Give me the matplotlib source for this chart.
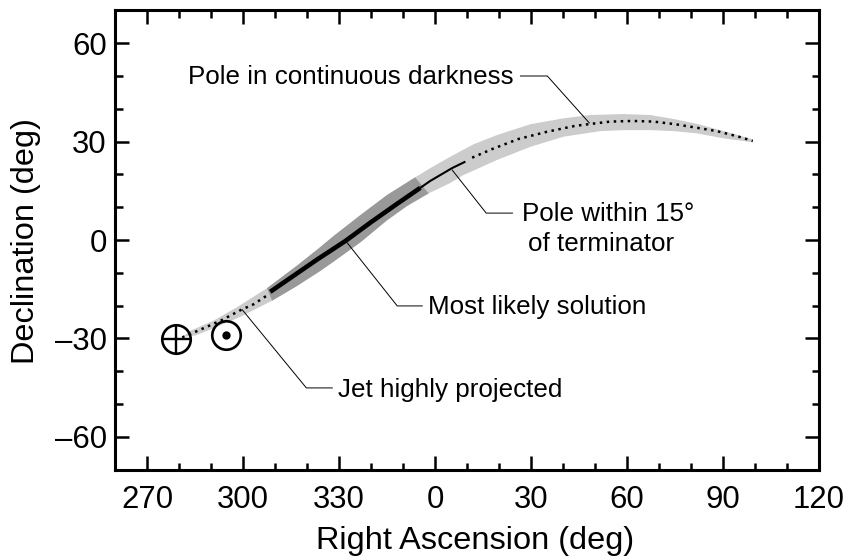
import numpy as np
from matplotlib import pyplot as plt

plt.rcParams["font.family"] = ["Liberation Sans", "DejaVu Sans"]

#: Pole track, right ascension unwrapped past 360 deg.
TRACK_RA = np.array([281.0, 285.1, 289.3, 293.4, 299.4, 303.3, 307.2, 308.5, 323.1, 332.0,
                     339.8, 348.1, 355.4, 358.5, 365.3, 369.5, 371.6, 377.8, 386.1, 395.0,
                     403.8, 410.4, 414.8, 421.6, 428.3, 435.1, 441.9, 448.1, 454.9, 459.3])
TRACK_DEC = np.array([-29.7, -28.0, -26.2, -24.4, -21.3, -19.6, -17.1, -15.8, -6.0, -0.3,
                      5.3, 11.0, 15.9, 18.0, 21.9, 23.9, 25.1, 27.7, 30.8, 33.0,
                      34.8, 35.6, 36.1, 36.3, 36.1, 35.3, 34.2, 33.2, 31.5, 30.2])

#: Edges of the allowed band.
UPPER_RA = np.array([281.0, 283.5, 290.8, 298.1, 307.5, 316.9, 323.6, 328.3, 336.7, 345.0,
                     353.8, 358.5, 364.8, 372.1, 379.4, 389.8, 400.2, 408.5, 418.9, 427.3,
                     434.6, 441.9, 450.2, 459.3])
UPPER_DEC = np.array([-29.6, -27.7, -24.6, -20.5, -14.7, -7.8, -2.6, 1.2, 7.6, 13.7,
                      19.1, 21.9, 25.4, 29.2, 32.0, 35.3, 37.1, 38.1, 38.4, 38.1,
                      36.9, 35.4, 33.2, 30.7])
LOWER_RA = np.array([285.1, 290.8, 299.2, 309.1, 316.9, 324.2, 328.3, 336.7, 345.0, 351.3,
                     358.0, 364.8, 368.9, 379.4, 389.8, 400.2, 411.7, 418.9, 427.3, 434.6,
                     441.9, 450.2, 459.3])
LOWER_DEC = np.array([-29.1, -26.9, -23.4, -18.5, -14.0, -9.4, -6.6, -0.7, 6.0, 10.4,
                      14.2, 17.4, 19.8, 24.4, 28.4, 31.5, 33.2, 33.5, 33.5, 33.2,
                      32.5, 31.0, 29.8])

#: Earth and Sun directions.
EARTH = (279.2, -30.2)
SUN = (294.8, -29.0)

#: Tick positions and labels.
X_TICKS = [270, 300, 330, 360, 390, 420, 450, 480]
X_LABELS = ["270", "300", "330", "0", "30", "60", "90", "120"]
Y_TICKS = [-60, -30, 0, 30, 60]
Y_LABELS = ["\u201360", "\u201330", "0", "30", "60"]

#: Annotation text with its anchor, and the leader line running to the track.
NOTES = [
    ("Pole in continuous darkness", 384.5, 49.8, "right", [386.7, 395.1, 408.2], [50.0, 50.0, 35.7]),
    ("Pole within 15\u00b0", 387.3, 7.9, "left", [384.2, 376.0, 365.4], [8.2, 8.2, 21.3]),
    ("of terminator", 389.2, -1.2, "left", [], []),
    ("Most likely solution", 357.9, -20.4, "left", [356.0, 348.2, 332.6], [-20.1, -20.1, -0.9]),
    ("Jet highly projected", 329.7, -45.7, "left", [327.9, 319.8, 299.8], [-45.1, -45.1, -21.3]),
]

fig = plt.figure(figsize=(8.47, 5.6), dpi=100)
ax = fig.add_axes([115 / 847, 1 - 469.6 / 560, 704 / 847, 459.2 / 560])

# band, light then the darker part of the most likely solution
ax.fill(np.r_[UPPER_RA, LOWER_RA[::-1]], np.r_[UPPER_DEC, LOWER_DEC[::-1]], color="#cccccc", lw=0)
up = (UPPER_RA >= 307.5) & (UPPER_RA <= 353.8)
lo = (LOWER_RA >= 309.1) & (LOWER_RA <= 358.0)
ax.fill(np.r_[UPPER_RA[up], LOWER_RA[lo][::-1]], np.r_[UPPER_DEC[up], LOWER_DEC[lo][::-1]],
        color="#999999", lw=0)

# track
dots = dict(color="black", lw=1.8, ls=(0, (1, 1.8)), dash_capstyle="butt")
first = TRACK_RA <= 307.2
last = TRACK_RA >= 371.6
thick = (TRACK_RA >= 308.5) & (TRACK_RA <= 355.4)
thin = (TRACK_RA >= 355.4) & (TRACK_RA <= 369.5)
ax.plot(TRACK_RA[first], TRACK_DEC[first], **dots)
ax.plot(TRACK_RA[last], TRACK_DEC[last], **dots)
ax.plot(TRACK_RA[thick], TRACK_DEC[thick], color="black", lw=3.3, solid_capstyle="butt")
ax.plot(TRACK_RA[thin], TRACK_DEC[thin], color="black", lw=1.5, solid_capstyle="butt")

# symbols
ax.plot(*EARTH, "o", ms=20.5, mfc="none", mec="black", mew=1.9)
ax.plot(*EARTH, "+", ms=20.5, mec="black", mew=1.7)
ax.plot(*SUN, "o", ms=20.5, mfc="none", mec="black", mew=1.9)
ax.plot(*SUN, "o", ms=6, mfc="black", mec="black", mew=0)

for text, x, y, ha, line_x, line_y in NOTES:
    ax.text(x, y, text, ha=ha, va="center", fontsize=18.7)
    if line_x:
        ax.plot(line_x, line_y, color="black", lw=0.7, solid_joinstyle="miter")

ax.set_xlim(260, 480)
ax.set_ylim(-70, 70)
ax.set_xticks(X_TICKS, X_LABELS)
ax.set_yticks(Y_TICKS, Y_LABELS)
ax.set_xticks(np.arange(270, 480, 10), minor=True)
ax.set_yticks(np.arange(-60, 70, 10), minor=True)
ax.tick_params(which="both", direction="in", top=True, right=True, width=1.8)
ax.tick_params(which="major", length=10, labelsize=22.4)
ax.tick_params(axis="x", which="major", pad=11)
ax.tick_params(axis="y", which="major", pad=6)
ax.tick_params(which="minor", length=5.4)
for spine in ax.spines.values():
    spine.set_linewidth(2.2)

fig.text(475 / 847, 1 - 541 / 560, "Right Ascension (deg)", ha="center", va="center", fontsize=23.4)
fig.text(26 / 847, 1 - 241 / 560, "Declination (deg)", ha="center", va="center", rotation=90, fontsize=23.4)

fig.savefig("out.png", dpi=100)
